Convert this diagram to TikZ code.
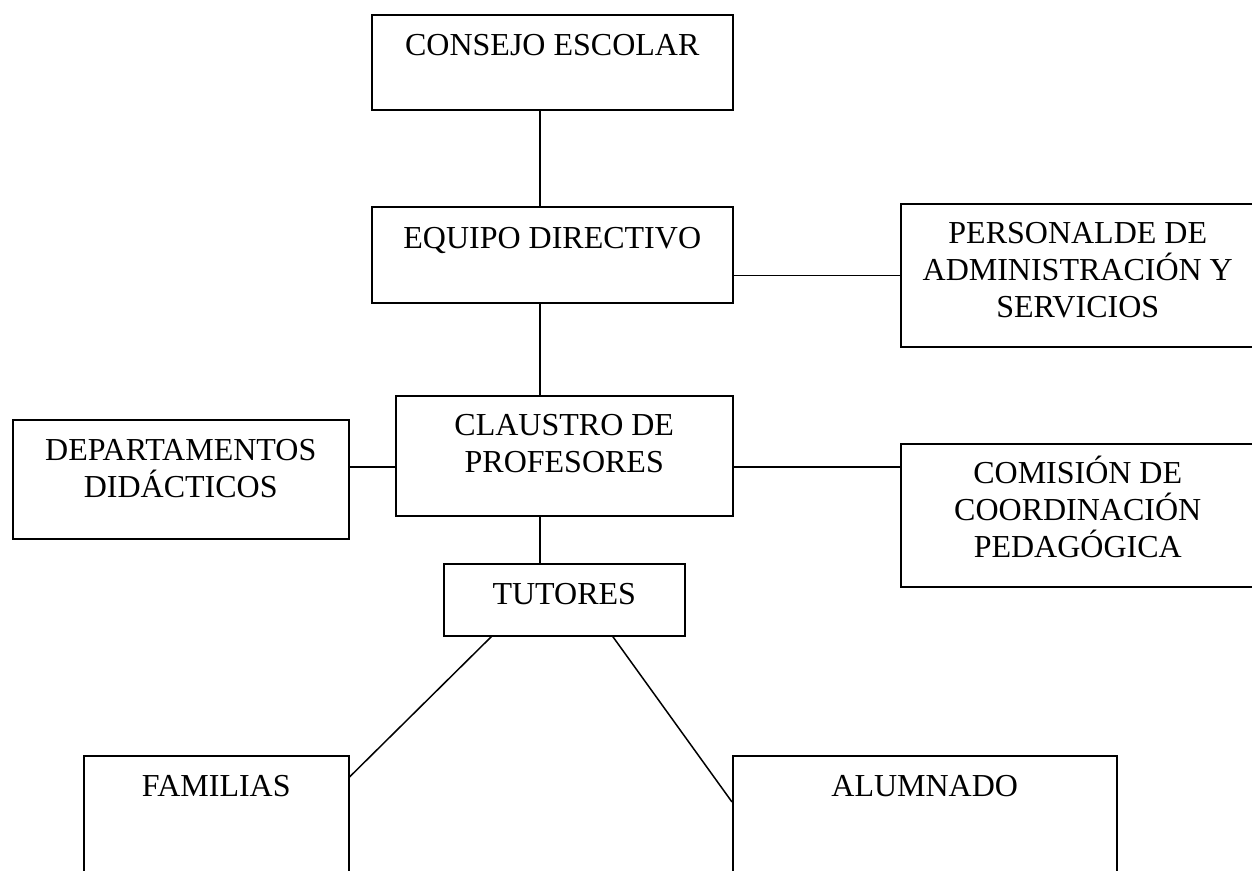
\documentclass[tikz,border=0pt]{standalone}
\usepackage{fontspec}
\setmainfont{Liberation Serif}
\usetikzlibrary{calc}

\begin{document}
\begin{tikzpicture}[x=1pt,y=-1pt,line width=1.5pt,
  caja/.style={draw, rectangle, anchor=north west, align=center,
    inner xsep=0pt, inner ysep=0pt, font=\fontsize{32pt}{37pt}\selectfont}]
%% page size of the reference, everything outside is cut away
\clip (0,0) rectangle (1252,870);
%% the boxes, placed by their top left corner; text height and depth keep the text at the top
%% (for several lines the baseline is the last one)
\node[caja, minimum width=361pt, text height=41pt, text depth=54pt] (consejo) at (371,14) {CONSEJO ESCOLAR};
\node[caja, minimum width=361pt, text height=42pt, text depth=54pt] (equipo) at (371,206) {EQUIPO DIRECTIVO};
\node[caja, minimum width=354pt, text height=114pt, text depth=29pt] (personal) at (900,203) {PERSONALDE DE\\ADMINISTRACIÓN Y\\SERVICIOS};
\node[caja, minimum width=337pt, text height=77pt, text depth=43pt] (claustro) at (395,395) {CLAUSTRO DE\\PROFESORES};
\node[caja, minimum width=336pt, text height=78pt, text depth=41pt] (dptos) at (12,419) {DEPARTAMENTOS\\DIDÁCTICOS};
\node[caja, minimum width=354pt, text height=114pt, text depth=29pt] (comision) at (900,443) {COMISIÓN DE\\COORDINACIÓN\\PEDAGÓGICA};
\node[caja, minimum width=241pt, text height=41pt, text depth=31pt] (tutores) at (443,563) {TUTORES};
\node[caja, minimum width=265pt, text height=41pt, text depth=104pt] (familias) at (83,755) {FAMILIAS};
\node[caja, minimum width=384pt, text height=41pt, text depth=104pt] (alumnado) at (732,755) {ALUMNADO};
%% the vertical line and the middle row do not go through the centres
\coordinate (eje) at (540,0);
\coordinate (fila) at (0,467);
\draw (consejo.south -| eje) -- (equipo.north -| eje);
\draw (equipo.south -| eje) -- (claustro.north -| eje);
\draw (claustro.south -| eje) -- (tutores.north -| eje);
\draw (equipo.east |- personal.west) -- (personal.west);
\draw (dptos.east |- fila) -- (claustro.west |- fila);
\draw (claustro.east |- fila) -- (comision.west |- fila);
\draw ($(tutores.south west)!.2!(tutores.south east)$) -- ($(familias.north east)+(0,22)$);
\draw ($(tutores.south west)!.7!(tutores.south east)$) -- ($(alumnado.north west)+(0,47)$);
\end{tikzpicture}
\end{document}
